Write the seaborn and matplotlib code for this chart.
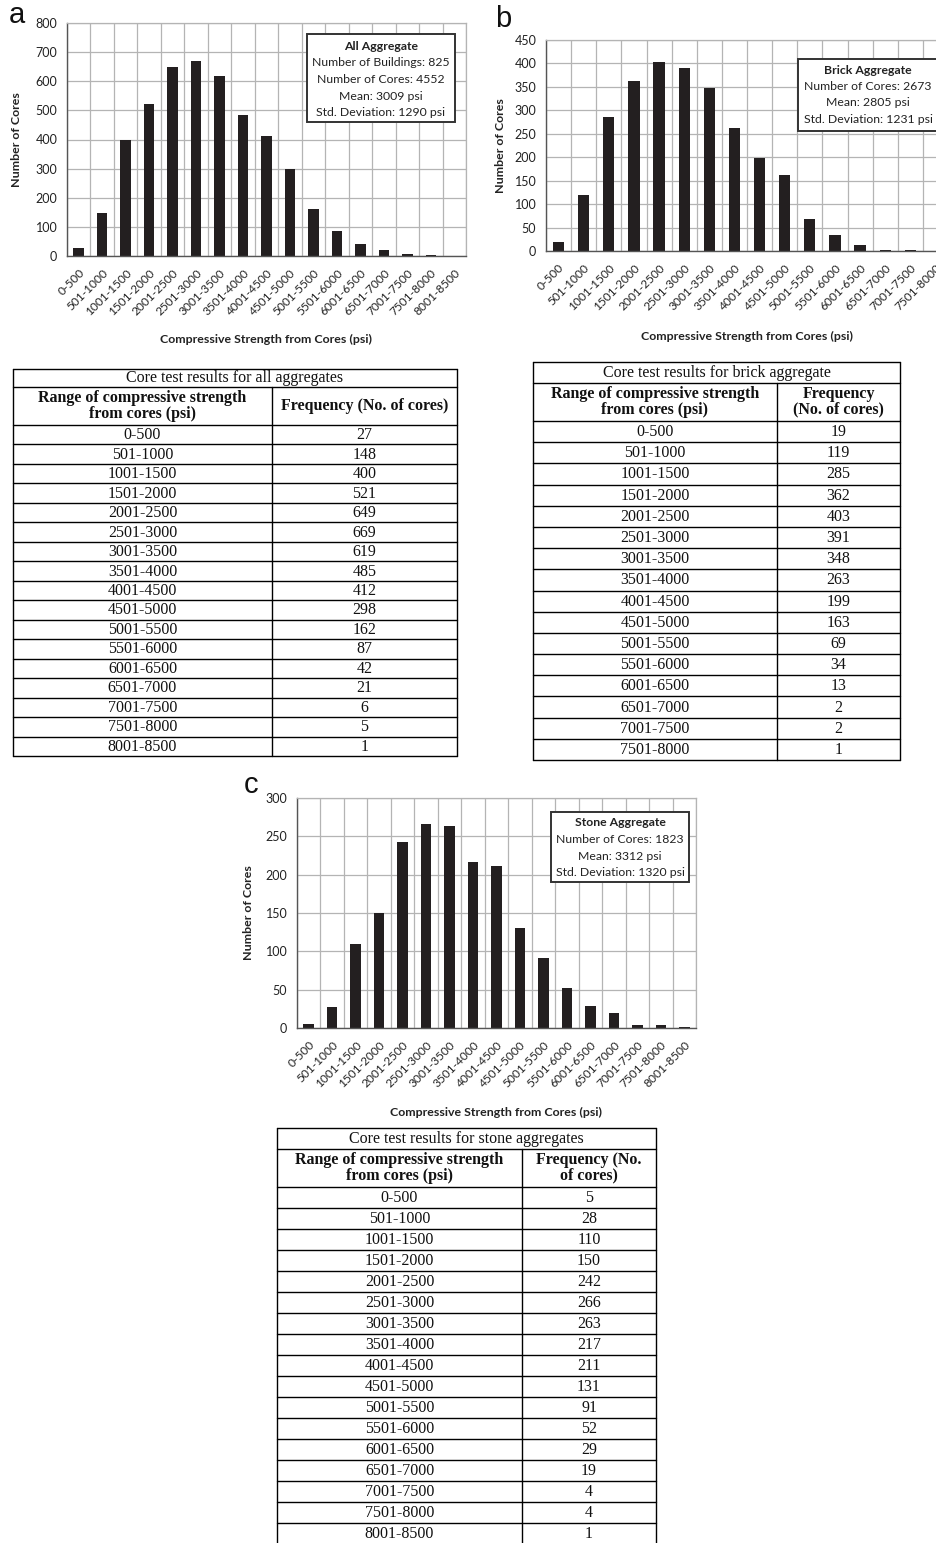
import numpy as np
import pandas as pd
import matplotlib
matplotlib.use("Agg")
import matplotlib.pyplot as plt
from matplotlib.patches import Rectangle
import seaborn as sns

# ---- data -------------------------------------------------------------
ranges_all = ["0-500", "501-1000", "1001-1500", "1501-2000", "2001-2500",
              "2501-3000", "3001-3500", "3501-4000", "4001-4500", "4501-5000",
              "5001-5500", "5501-6000", "6001-6500", "6501-7000", "7001-7500",
              "7501-8000", "8001-8500"]
freq_all = [27, 148, 400, 521, 649, 669, 619, 485, 412, 298, 162, 87, 42, 21, 6, 5, 1]

ranges_brick = ranges_all[:16]
freq_brick = [19, 119, 285, 362, 403, 391, 348, 263, 199, 163, 69, 34, 13, 2, 2, 1]

ranges_stone = ranges_all
freq_stone = [5, 28, 110, 150, 242, 266, 263, 217, 211, 131, 91, 52, 29, 19, 4, 4, 1]

stats_all = ["All Aggregate", "Number of Buildings: 825", "Number of Cores: 4552",
             "Mean: 3009 psi", "Std. Deviation: 1290 psi"]
stats_brick = ["Brick Aggregate", "Number of Cores: 2673", "Mean: 2805 psi",
               "Std. Deviation: 1231 psi"]
stats_stone = ["Stone Aggregate", "Number of Cores: 1823", "Mean: 3312 psi",
               "Std. Deviation: 1320 psi"]

table_titles = ["Core test results for all aggregates",
                "Core test results for brick aggregate",
                "Core test results for stone aggregates"]

# ---- style ------------------------------------------------------------
sns.set_style("white")
SANS = ["Lato", "DejaVu Sans"]
SERIF = ["Liberation Serif", "DejaVu Serif"]
plt.rcParams["font.family"] = SANS

W, H = 936, 1543
BAR = "#231f20"
GRID = "#b4b4b4"
AXIS = "#555555"
TXT = "#222222"

fig = plt.figure(figsize=(W / 100, H / 100), dpi=100)
fig.patch.set_facecolor("white")


def px_axes(left, top, right, bottom):
    return fig.add_axes([left / W, 1 - bottom / H, (right - left) / W, (bottom - top) / H])


def draw_hist(rect, cats, vals, ymax, ystep, stats, box, line_y, xlabel_top, ylabel_right):
    left, top, right, bottom = rect
    ax = px_axes(*rect)
    df = pd.DataFrame({"range": cats, "cores": vals})
    sns.barplot(data=df, x="range", y="cores", color=BAR, saturation=1,
                width=0.45, linewidth=0, ax=ax)
    n = len(cats)
    ax.set_xlim(-0.5, n - 0.5)
    ax.set_ylim(0, ymax)
    ax.set_yticks(np.arange(0, ymax + 1, ystep))
    ax.set_xticks(np.arange(-0.5, n), minor=True)
    ax.set_axisbelow(True)
    ax.grid(axis="x", which="minor", color=GRID, linewidth=0.9)
    ax.grid(axis="y", which="major", color=GRID, linewidth=0.9)
    ax.tick_params(axis="x", which="major", length=0, pad=8, labelsize=8.6, colors=TXT)
    ax.tick_params(axis="x", which="minor", length=4, width=0.9, color=AXIS, direction="out")
    ax.tick_params(axis="y", which="major", length=4, width=0.9, color=AXIS,
                   labelsize=9, labelcolor=TXT, pad=3)
    for lbl in ax.get_xticklabels():
        lbl.set_rotation(45)
        lbl.set_ha("right")
        lbl.set_rotation_mode("anchor")
    for side in ("top", "right"):
        ax.spines[side].set_color(GRID)
        ax.spines[side].set_linewidth(0.9)
    for side in ("left", "bottom"):
        ax.spines[side].set_color(AXIS)
        ax.spines[side].set_linewidth(1.0)

    w, h = right - left, bottom - top

    def to_ax(px, py):
        return (px - left) / w, (bottom - py) / h

    ax.set_xlabel("Compressive Strength from Cores (psi)", fontsize=8.9,
                  fontweight="bold", color=TXT)
    ax.xaxis.set_label_coords(to_ax(0, 0)[0] + 0.5 if False else 0.5, to_ax(0, xlabel_top)[1])
    ax.set_ylabel("Number of Cores", fontsize=8.9, fontweight="bold", color=TXT)
    ax.yaxis.set_label_coords(to_ax(ylabel_right, 0)[0], 0.5)

    bx0, by0, bx1, by1 = box
    x0, y0 = to_ax(bx0, by1)
    x1, y1 = to_ax(bx1, by0)
    ax.add_patch(Rectangle((x0, y0), x1 - x0, y1 - y0, transform=ax.transAxes,
                           facecolor="white", edgecolor="#333333", linewidth=1.4,
                           zorder=5, clip_on=False))
    cx = to_ax((bx0 + bx1) / 2, 0)[0]
    for i, (txt, ly) in enumerate(zip(stats, line_y)):
        ax.text(cx, to_ax(0, ly)[1], txt, transform=ax.transAxes, ha="center",
                va="center", fontsize=8.8, color=TXT, zorder=6,
                fontweight="bold" if i == 0 else "normal")
    return ax


def draw_table(rect, split, title_h, head_h, n_rows, title, ranges, freqs, freq_head,
               fs=11.5, bottom_line=True):
    left, top, right, bottom = rect
    ax = px_axes(left, top, right, bottom)
    ax.set_xlim(left, right)
    ax.set_ylim(bottom, top)
    ax.axis("off")
    row_h = (bottom - top - title_h - head_h) / n_rows
    kw = dict(color="black", linewidth=1.0, clip_on=False)
    ax.plot([left, right], [top, top], **kw)
    ax.plot([left, left], [top, bottom], **kw)
    ax.plot([right, right], [top, bottom], **kw)
    y_head = top + title_h
    y_body = y_head + head_h
    ax.plot([left, right], [y_head, y_head], **kw)
    ax.plot([split, split], [y_head, bottom], **kw)
    for i in range(n_rows + 1):
        if i == n_rows and not bottom_line:
            continue
        y = y_body + i * row_h
        ax.plot([left, right], [y, y], **kw)
    ax.text((left + right) / 2, top + title_h / 2 + 0.5, title, ha="center", va="center",
            fontsize=fs, family=SERIF, color="#111111")
    ax.text((left + split) / 2, y_head + head_h / 2, "Range of compressive strength\nfrom cores (psi)",
            ha="center", va="center", fontsize=fs, family=SERIF, fontweight="bold",
            linespacing=0.95, color="#111111")
    ax.text((split + right) / 2, y_head + head_h / 2, freq_head,
            ha="center", va="center", fontsize=fs, family=SERIF, fontweight="bold",
            linespacing=0.95, color="#111111")
    for i, (r, f) in enumerate(zip(ranges, freqs)):
        yc = y_body + (i + 0.5) * row_h + 0.5
        ax.text((left + split) / 2, yc, r, ha="center", va="center", fontsize=fs,
                family=SERIF, color="#111111")
        ax.text((split + right) / 2, yc, str(f), ha="center", va="center", fontsize=fs,
                family=SERIF, color="#111111")
    return ax


# ---- histograms ---------------------------------------------------------
draw_hist((67, 23, 466, 256), ranges_all, freq_all, 800, 100, stats_all,
          box=(307, 34, 455, 122), line_y=[47, 63, 79.5, 96, 112.5],
          xlabel_top=334, ylabel_right=22)

draw_hist((546, 40, 948, 251), ranges_brick, freq_brick, 450, 50, stats_brick,
          box=(798, 59, 938, 131), line_y=[70, 86.5, 103, 119.5],
          xlabel_top=331, ylabel_right=506)

draw_hist((297, 798, 696, 1028), ranges_stone, freq_stone, 300, 50, stats_stone,
          box=(551, 812, 689, 882), line_y=[822.5, 839.5, 856, 872.5],
          xlabel_top=1107, ylabel_right=254)

# panel letters
for letter, x, y in (("a", 17, 15), ("b", 503, 19), ("c", 251, 785)):
    fig.text(x / W, 1 - y / H, letter, ha="center", va="center", fontsize=21,
             family=["Liberation Sans", "DejaVu Sans"], color="#111111")

# ---- tables --------------------------------------------------------------
draw_table((13, 369, 457, 756), 272, 18, 38, 17, table_titles[0],
           ranges_all, freq_all, "Frequency (No. of cores)")
draw_table((533, 362, 900, 760), 777, 21, 38, 16, table_titles[1],
           ranges_brick, freq_brick, "Frequency\n(No. of cores)")
draw_table((277, 1128, 656, 1544), 522, 21, 38, 17, table_titles[2],
           ranges_stone, freq_stone, "Frequency (No.\nof cores)", bottom_line=False)

fig.savefig("out.png", dpi=100, facecolor="white")
